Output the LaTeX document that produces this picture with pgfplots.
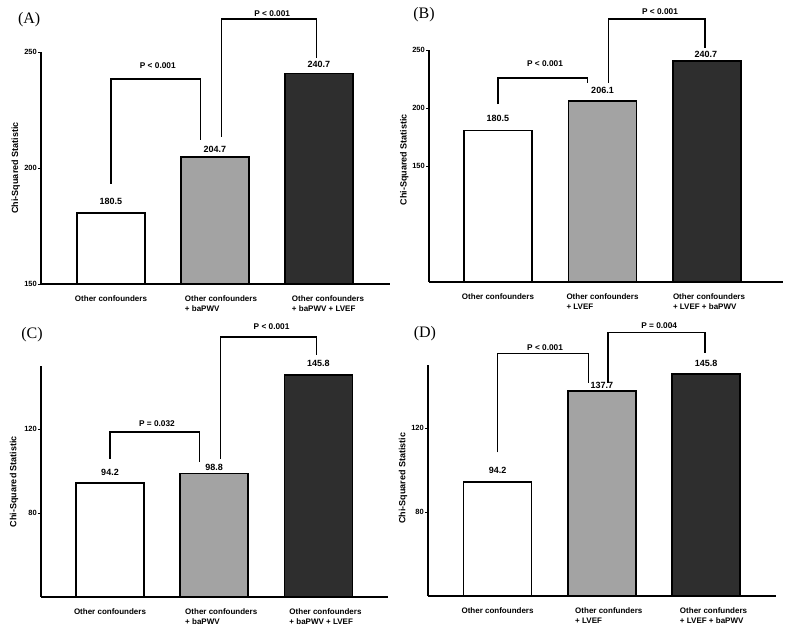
\documentclass[border=0pt]{standalone}
\usepackage{pgfplots}
\pgfplotsset{compat=1.18}
\usepackage{fontspec}
\setmainfont{Liberation Sans}
\newfontfamily\seriffont{Liberation Serif}
\definecolor{barGrey}{HTML}{A3A3A3}
\definecolor{barDark}{HTML}{2E2E2E}
\newcommand{\pad}[3]{\hspace*{#1}#2\\\hspace*{#1}#3}
\tikzset{
 vl/.style={font=\bfseries\fontsize{9}{10}\selectfont},
 pl/.style={font=\bfseries\fontsize{8.3}{10}\selectfont},
 lab/.style={font=\seriffont\fontsize{16}{16}\selectfont},
}
\pgfplotsset{
 panel/.style={
   scale only axis, anchor=south west,
   axis x line=bottom, axis y line=left,
   axis line style={-, line width=1.3pt},
   xtick={0,1,2}, xtick style={draw=none},
   ytick style={line width=0.9pt, black},
   tick align=outside, major tick length=3pt,
   /pgf/number format/assume math mode=true,
   yticklabel style={font=\bfseries\fontsize{7.5}{8}\selectfont, inner sep=1pt},
   xticklabel style={font=\bfseries\fontsize{8}{10.5}\selectfont, align=left, yshift=-5pt},
   ylabel={Chi-Squared Statistic},
   ylabel style={font=\bfseries\fontsize{9}{10}\selectfont, anchor=center},
   enlargelimits=false,
 },
 over/.style={scale only axis, anchor=south west, hide axis, clip=false},
 bk/.style={black, line width=1.2pt, mark=none},
 wbar/.style={ybar, bar width=68pt, bar shift=0pt, draw=black, line width=1.6pt},
 geoA/.style={at={(41pt,352pt)}, width=349pt, height=232pt, xmin=-0.673, xmax=2.683, ymin=150, ymax=250},
 geoB/.style={at={(429pt,354pt)}, width=354pt, height=232pt, xmin=-0.660, xmax=2.727, ymin=50, ymax=250},
 geoC/.style={at={(41pt,39pt)}, width=347pt, height=231pt, xmin=-0.662, xmax=2.667, ymin=40, ymax=150},
 geoD/.style={at={(428pt,40pt)}, width=348pt, height=231pt, xmin=-0.667, xmax=2.671, ymin=40, ymax=150},
}
\begin{document}
\begin{tikzpicture}
\useasboundingbox (0,0) rectangle (786pt,636pt);
% ---------------- Panel A
\begin{axis}[panel, geoA, ytick={150,200,250},
  ylabel style={at={(axis description cs:-0.072,0.5)}},
  xticklabels={Other confounders, {\pad{12pt}{Other confounders}{+ baPWV}}, {\pad{18pt}{Other confounders}{+ baPWV + LVEF}}}]
\addplot[wbar, fill=white] coordinates {(0,180.5)};
\addplot[wbar, fill=barGrey] coordinates {(1,204.7)};
\addplot[wbar, fill=barDark] coordinates {(2,240.7)};
\end{axis}
\begin{axis}[over, geoA]
\addplot[bk] coordinates {(0,193.1) (0,238.4) (0.86,238.4) (0.86,212.1)};
\addplot[bk] coordinates {(1.06,213.4) (1.06,264.2) (1.98,264.2) (1.98,247.4)};
\node[pl] at (axis cs:0.45,244.1) {P < 0.001};
\node[pl] at (axis cs:1.55,266.4) {P < 0.001};
\node[vl] at (axis cs:0,185.8) {180.5};
\node[vl] at (axis cs:1,207.8) {204.7};
\node[vl] at (axis cs:2,244.7) {240.7};
\node[lab] at (axis description cs:-0.034,1.138) {(A)};
\end{axis}
% ---------------- Panel B
\begin{axis}[panel, geoB, ytick={150,200,250},
  ylabel style={at={(axis description cs:-0.070,0.526)}},
  xticklabels={Other confounders, {\pad{0pt}{Other confounders}{+ LVEF}}, {\pad{4pt}{Other confounders}{+ LVEF + baPWV}}}]
\addplot[wbar, fill=white] coordinates {(0,180.5)};
\addplot[wbar, fill=barGrey] coordinates {(1,206.1)};
\addplot[wbar, fill=barDark] coordinates {(2,240.7)};
\end{axis}
\begin{axis}[over, geoB]
\addplot[bk] coordinates {(0,203.4) (0,225.9) (0.86,225.9) (0.86,221.6)};
\addplot[bk] coordinates {(1.06,221.6) (1.06,276.7) (1.98,276.7) (1.98,251.7)};
\node[pl] at (axis cs:0.45,237.9) {P < 0.001};
\node[pl] at (axis cs:1.55,282.8) {P < 0.001};
\node[vl] at (axis cs:0,190.8) {180.5};
\node[vl] at (axis cs:1,215.5) {206.1};
\node[vl] at (axis cs:1.99,246.3) {240.7};
\node[lab] at (axis description cs:-0.014,1.151) {(B)};
\end{axis}
% ---------------- Panel C
\begin{axis}[panel, geoC, ytick={80,120},
  ylabel style={at={(axis description cs:-0.078,0.50)}},
  xticklabels={Other confounders, {\pad{14pt}{Other confounders}{+ baPWV}}, {\pad{14pt}{Other confounders}{+ baPWV + LVEF}}}]
\addplot[wbar, fill=white] coordinates {(0,94.2)};
\addplot[wbar, fill=barGrey] coordinates {(1,98.8)};
\addplot[wbar, fill=barDark] coordinates {(2,145.8)};
\end{axis}
\begin{axis}[over, geoC]
\addplot[bk] coordinates {(0,105.9) (0,118.6) (0.86,118.6) (0.86,104.3)};
\addplot[bk] coordinates {(1.06,105.9) (1.06,163.8) (1.98,163.8) (1.98,155.4)};
\node[pl] at (axis cs:0.45,122.5) {P = 0.032};
\node[pl] at (axis cs:1.55,168.6) {P < 0.001};
\node[vl] at (axis cs:0,99.5) {94.2};
\node[vl] at (axis cs:1,101.6) {98.8};
\node[vl] at (axis cs:2,151.1) {145.8};
\node[lab] at (axis description cs:-0.026,1.134) {(C)};
\end{axis}
% ---------------- Panel D
\begin{axis}[panel, geoD, ytick={80,120},
  ylabel style={at={(axis description cs:-0.072,0.51)}},
  xticklabels={Other confounders, {\pad{14pt}{Other confunders}{+ LVEF}}, {\pad{15pt}{Other confunders}{+ LVEF + baPWV}}}]
\addplot[wbar, fill=white] coordinates {(0,94.2)};
\addplot[wbar, fill=barGrey] coordinates {(1,137.7)};
\addplot[wbar, fill=barDark] coordinates {(2,145.8)};
\end{axis}
\begin{axis}[over, geoD]
\addplot[bk] coordinates {(0,108.4) (0,155.4) (0.87,155.4) (0.87,141.5)};
\addplot[bk] coordinates {(1.06,141.5) (1.06,165.3) (1.99,165.3) (1.99,155.9)};
\node[pl] at (axis cs:0.456,158.4) {P < 0.001};
\node[pl] at (axis cs:1.55,168.6) {P = 0.004};
\node[vl] at (axis cs:0,99.6) {94.2};
\node[vl] at (axis cs:1,140.3) {137.7};
\node[vl] at (axis cs:2,150.8) {145.8};
\node[lab] at (axis description cs:-0.009,1.134) {(D)};
\end{axis}
\end{tikzpicture}
\end{document}
